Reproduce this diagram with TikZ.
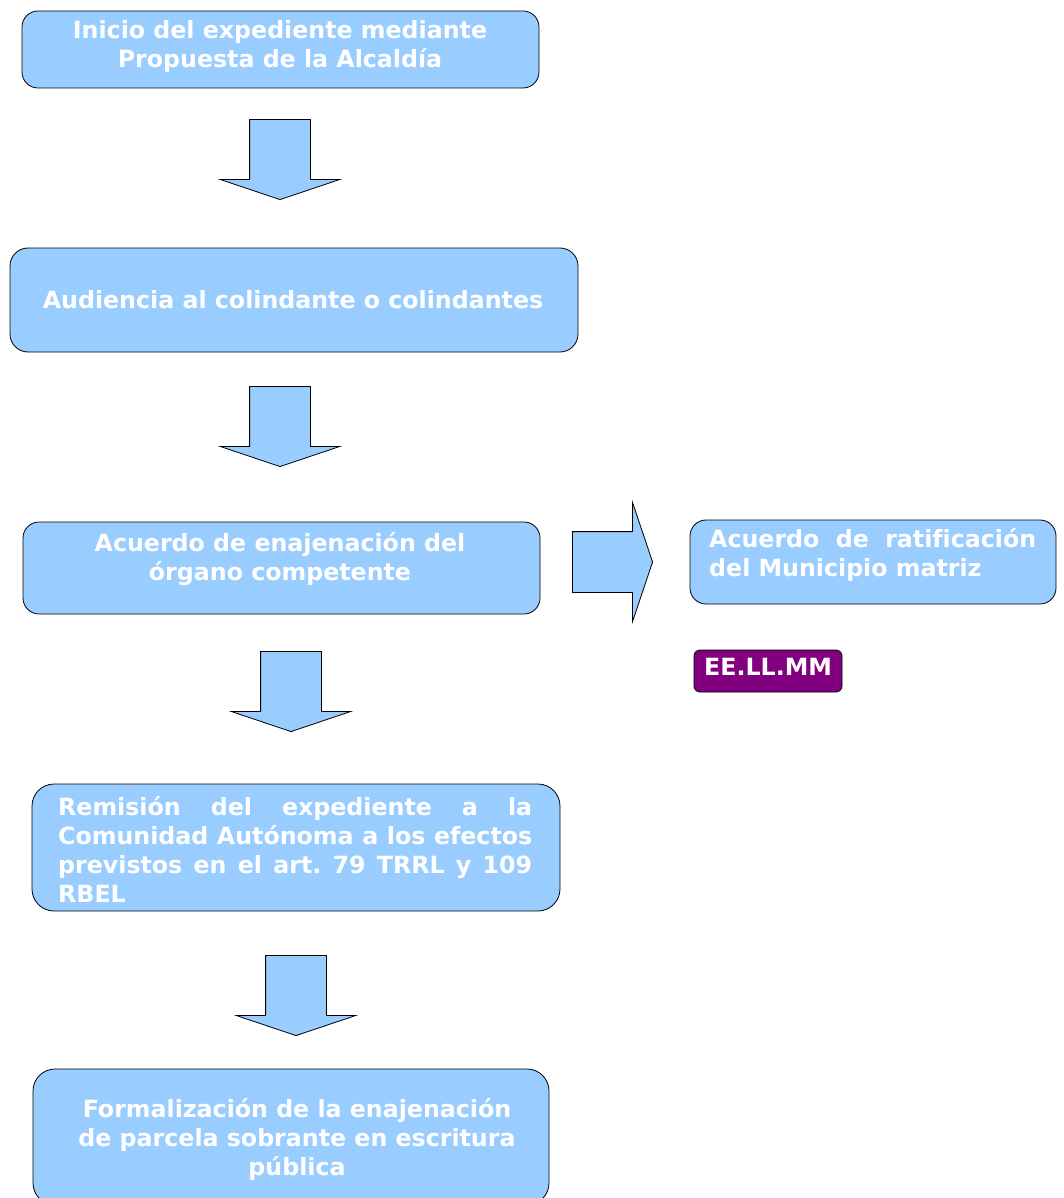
\documentclass[tikz,border=0pt]{standalone}
\usepackage{fontspec}
\setmainfont[Ligatures=NoCommon]{DejaVu Sans}
\usepackage{tikz}
\usetikzlibrary{shapes.arrows}
\definecolor{boxblue}{HTML}{99CCFF}
\definecolor{tagpurple}{HTML}{800080}
\frenchspacing

\begin{document}
\begin{tikzpicture}[x=1pt,y=-1pt,
  box/.style={rectangle,rounded corners=16pt,draw=black,line width=0.8pt,fill=boxblue,inner sep=0pt},
  boxtext/.style={text=white,font=\fontsize{23.7}{29}\selectfont\bfseries,inner sep=0pt},
  blockarrow/.style={single arrow,draw=black,line width=0.8pt,fill=boxblue,minimum height=80pt,
    inner xsep=0pt,inner ysep=30pt,single arrow head extend=29.5pt,
    single arrow tip angle=142.8,single arrow head indent=0pt,anchor=tip},
  downarrow/.style={blockarrow,rotate=-90}]

  \clip (0,0) rectangle (1064,1198);

  % cajas del procedimiento
  \node [box,minimum width=517pt,minimum height=77pt] (inicio) at (280.5,49.5) {};
  \node [boxtext,align=center] (inicio-t) at (280,46) {Inicio del expediente mediante\\Propuesta de la Alcaldía};

  \node [box,minimum width=568pt,minimum height=104pt,rounded corners=18pt] (audiencia) at (294,300) {};
  \node [boxtext] (audiencia-t) at (293,300) {Audiencia al colindante o colindantes};

  \node [box,minimum width=517pt,minimum height=92pt] (acuerdo) at (281.5,568) {};
  \node [boxtext,align=center] (acuerdo-t) at (280,559) {Acuerdo de enajenación del\\órgano competente};

  \node [box,minimum width=366pt,minimum height=84pt] (ratif) at (873,562) {};
  \node [boxtext,text width=327pt,align=justify,anchor=west] (ratif-t) at (709,555)
    {Acuerdo de ratificación\linebreak del Municipio matriz};

  \node [box,fill=tagpurple,minimum width=148pt,minimum height=42pt,rounded corners=6pt] (eellmm) at (768,671) {};
  \node [boxtext,anchor=west] (eellmm-t) at (704,667) {EE.LL.MM};

  \node [box,minimum width=528pt,minimum height=127pt,rounded corners=22pt] (remision) at (296,847.5) {};
  \node [boxtext,text width=474pt,align=justify,anchor=west] (remision-t) at (58,850)
    {Remisión del expediente a la\linebreak Comunidad Autónoma a los efectos\linebreak
     previstos en el art. 79 TRRL y 109\linebreak RBEL};

  \node [box,minimum width=516pt,minimum height=136pt,rounded corners=22pt] (formal) at (291,1137) {};
  \node [boxtext,align=center] (formal-t) at (297,1139)
    {Formalización de la enajenación\\de parcela sobrante en escritura\\pública};

  % flechas
  \node [downarrow] (f1) at (280,200) {};
  \node [downarrow] (f2) at (280,467) {};
  \node [blockarrow] (f3) at (653,562) {};
  \node [downarrow] (f4) at (291,732) {};
  \node [downarrow] (f5) at (296,1036) {};

\end{tikzpicture}
\end{document}
